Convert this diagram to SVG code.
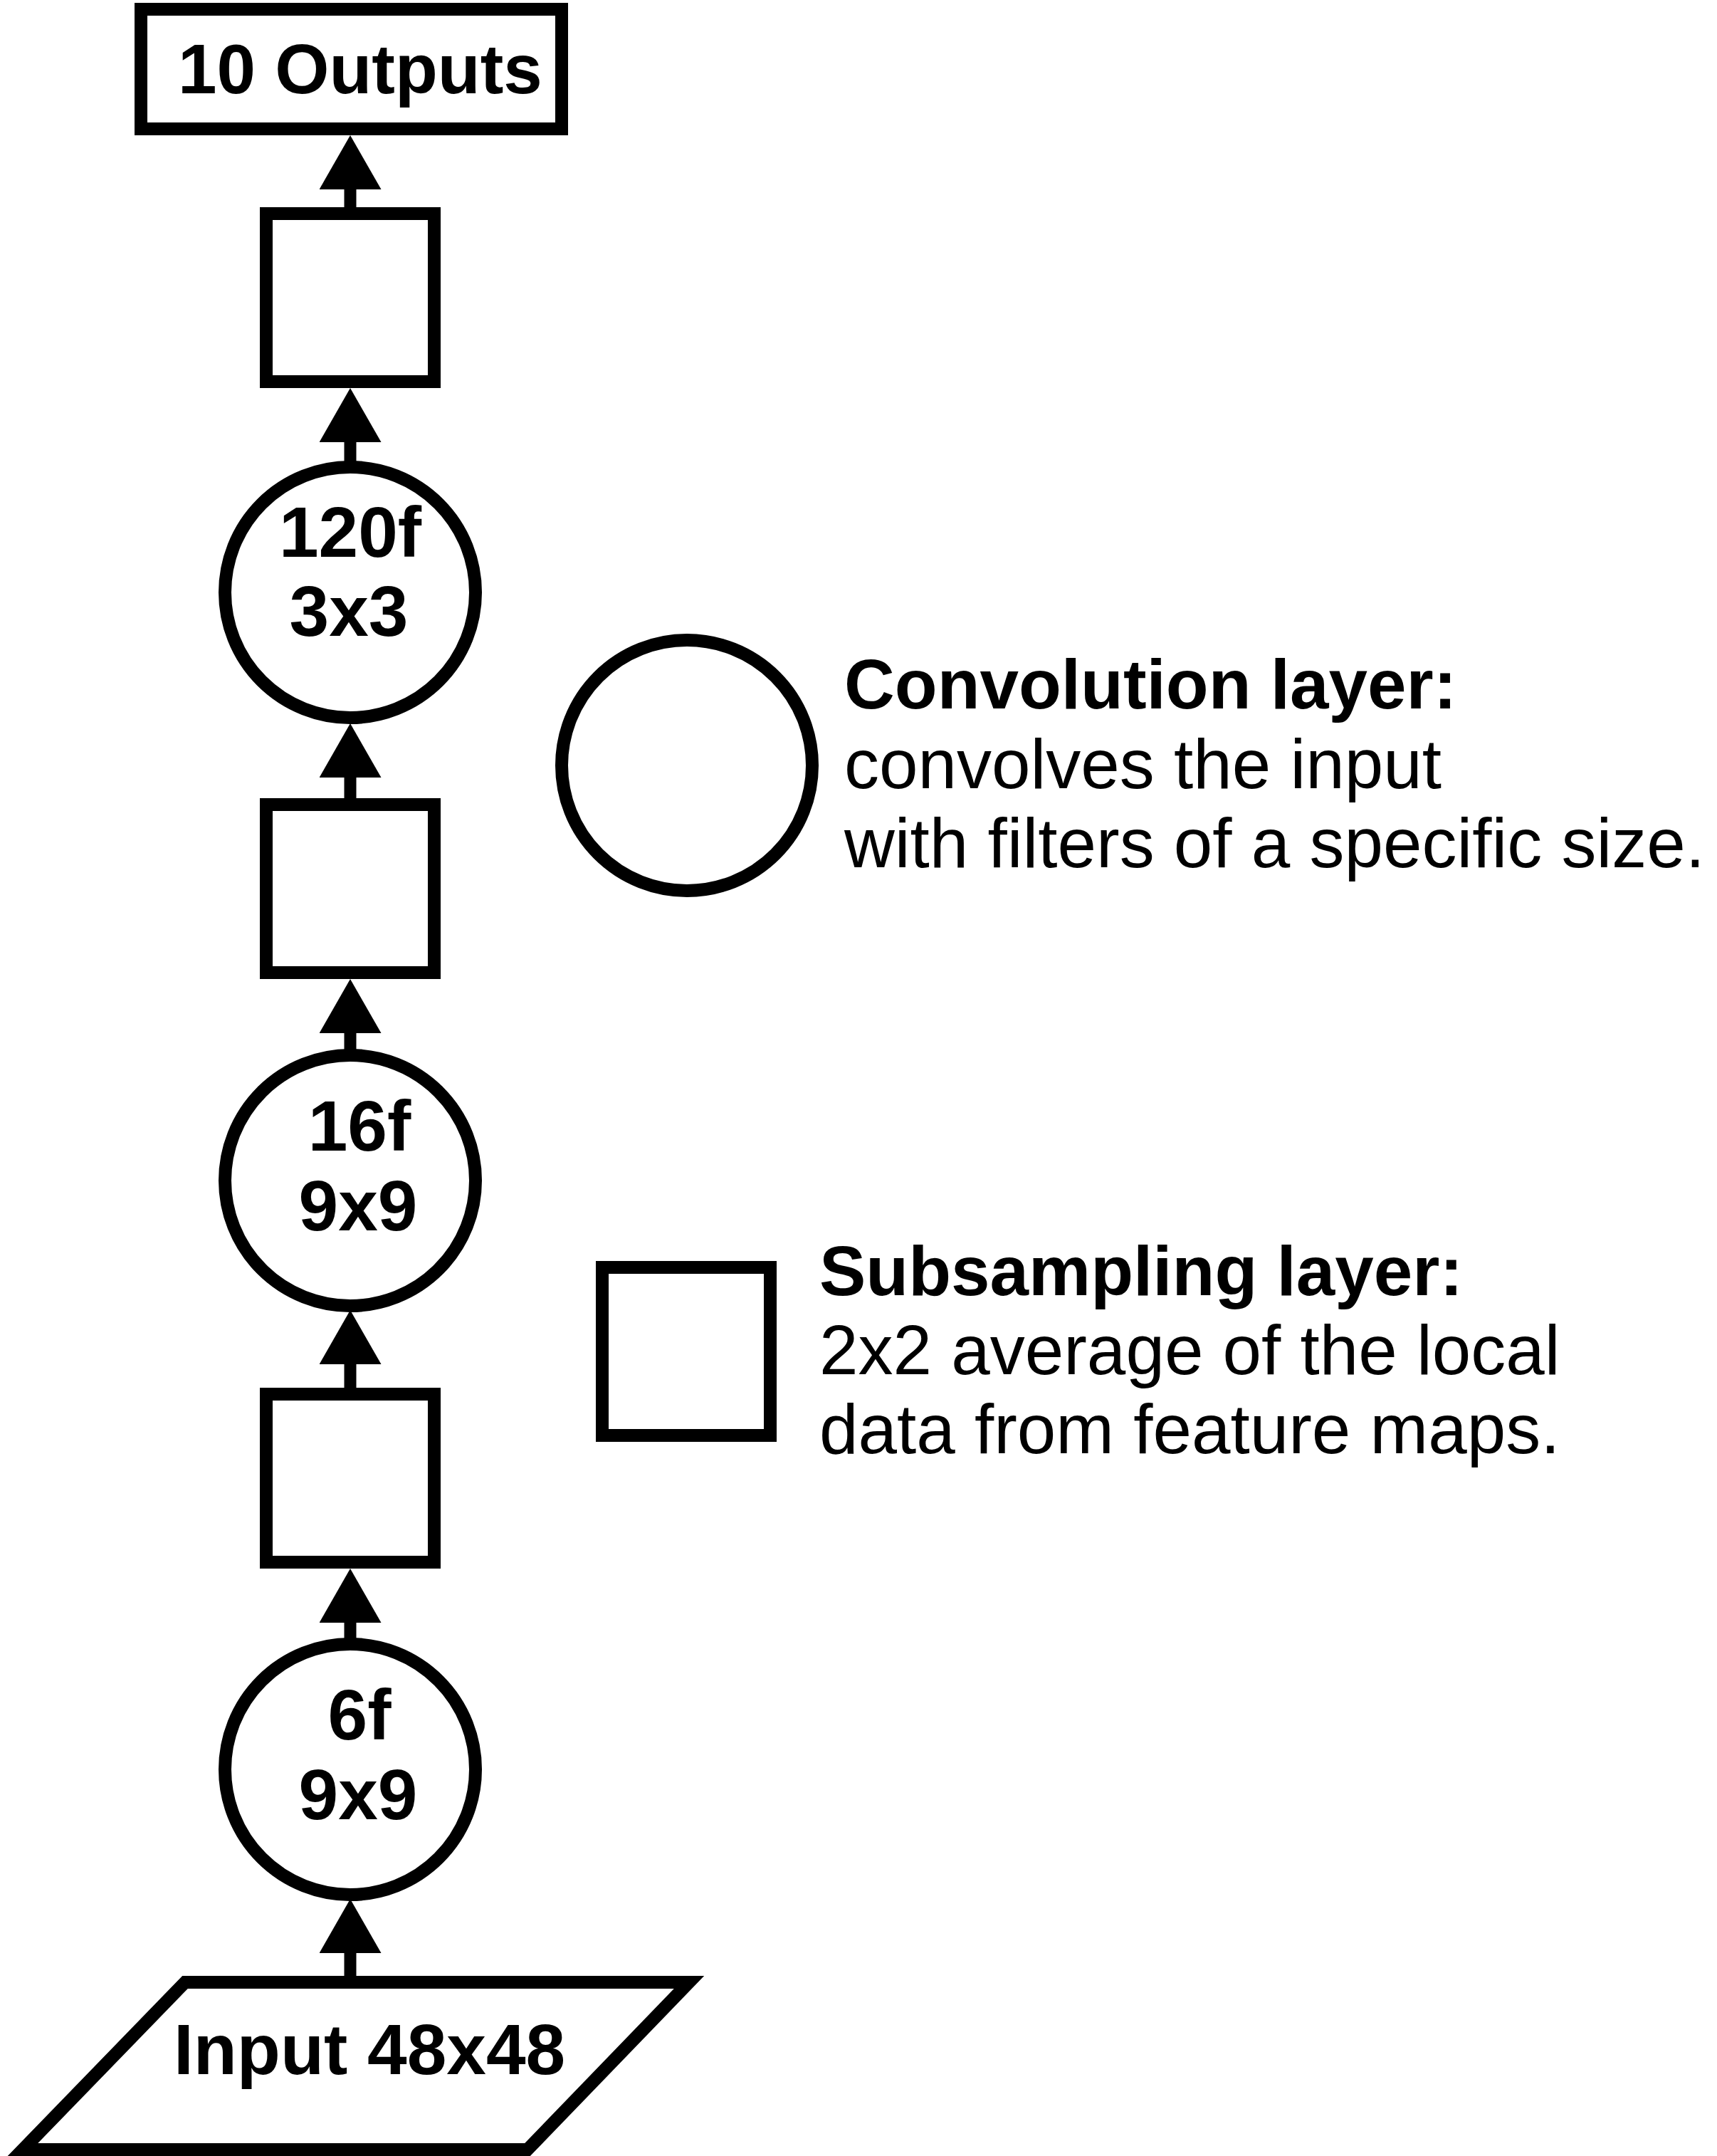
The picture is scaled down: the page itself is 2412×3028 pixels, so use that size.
<svg xmlns="http://www.w3.org/2000/svg" width="2412" height="3028" viewBox="0 0 2412 3028">
<style>
.shape{fill:#fff;stroke:#000;stroke-width:18}
.conn{stroke:#000;stroke-width:17;fill:none}
.t{font-family:"Liberation Sans",Arial,sans-serif;font-size:100px;fill:#000}
.lg{font-size:98px}
.b{font-weight:bold}
.c{text-anchor:middle}
</style>
<defs>
<marker id="ah" viewBox="0 0 76 87" refX="10" refY="43.5" markerWidth="76" markerHeight="87" markerUnits="userSpaceOnUse" orient="auto">
<path d="M0,0 L76,43.5 L0,87 Z" fill="#000"/>
</marker>
</defs>
<rect width="2412" height="3028" fill="#fff"/>
<g id="connectors">
<line class="conn" x1="492" y1="291" x2="492" y2="256" marker-end="url(#ah)"/>
<line class="conn" x1="492" y1="649" x2="492" y2="611" marker-end="url(#ah)"/>
<line class="conn" x1="492" y1="1121" x2="492" y2="1082" marker-end="url(#ah)"/>
<line class="conn" x1="492" y1="1476" x2="492" y2="1441" marker-end="url(#ah)"/>
<line class="conn" x1="492" y1="1949" x2="492" y2="1906" marker-end="url(#ah)"/>
<line class="conn" x1="492" y1="2303" x2="492" y2="2269" marker-end="url(#ah)"/>
<line class="conn" x1="492" y1="2775" x2="492" y2="2733" marker-end="url(#ah)"/>
</g>
<g id="outputs">
<rect class="shape" x="198" y="13" width="591" height="168"/>
<text class="t b" x="250" y="131" style="font-size:98px">10 Outputs</text>
</g>
<g id="sub3">
<rect class="shape" x="374" y="300" width="236" height="236"/>
</g>
<g id="conv3">
<circle class="shape" cx="492" cy="832" r="176"/>
<text class="t b c" x="492" y="782">120f</text>
<text class="t b c" x="490" y="893">3x3</text>
</g>
<g id="sub2">
<rect class="shape" x="374" y="1130" width="236" height="236"/>
</g>
<g id="conv2">
<circle class="shape" cx="492" cy="1658" r="176"/>
<text class="t b c" x="505" y="1616">16f</text>
<text class="t b c" x="503" y="1728">9x9</text>
</g>
<g id="sub1">
<rect class="shape" x="374" y="1958" width="236" height="236"/>
</g>
<g id="conv1">
<circle class="shape" cx="492" cy="2485" r="176"/>
<text class="t b c" x="505" y="2443">6f</text>
<text class="t b c" x="503" y="2555">9x9</text>
</g>
<g id="input">
<polygon class="shape" points="260,2784 968,2784 741,3019 32,3019"/>
<text class="t b" x="244" y="2913">Input 48x48</text>
</g>
<g id="legend-conv">
<circle class="shape" cx="965" cy="1075" r="176"/>
<text class="t lg b" x="1186" y="995">Convolution layer:</text>
<text class="t lg" x="1186" y="1107">convolves the input</text>
<text class="t lg" x="1186" y="1218">with filters of a specific size.</text>
</g>
<g id="legend-sub">
<rect class="shape" x="846" y="1780" width="236" height="236"/>
<text class="t lg b" x="1151" y="1819">Subsampling layer:</text>
<text class="t lg" x="1151" y="1930">2x2 average of the local</text>
<text class="t lg" x="1151" y="2041">data from feature maps.</text>
</g>
</svg>
